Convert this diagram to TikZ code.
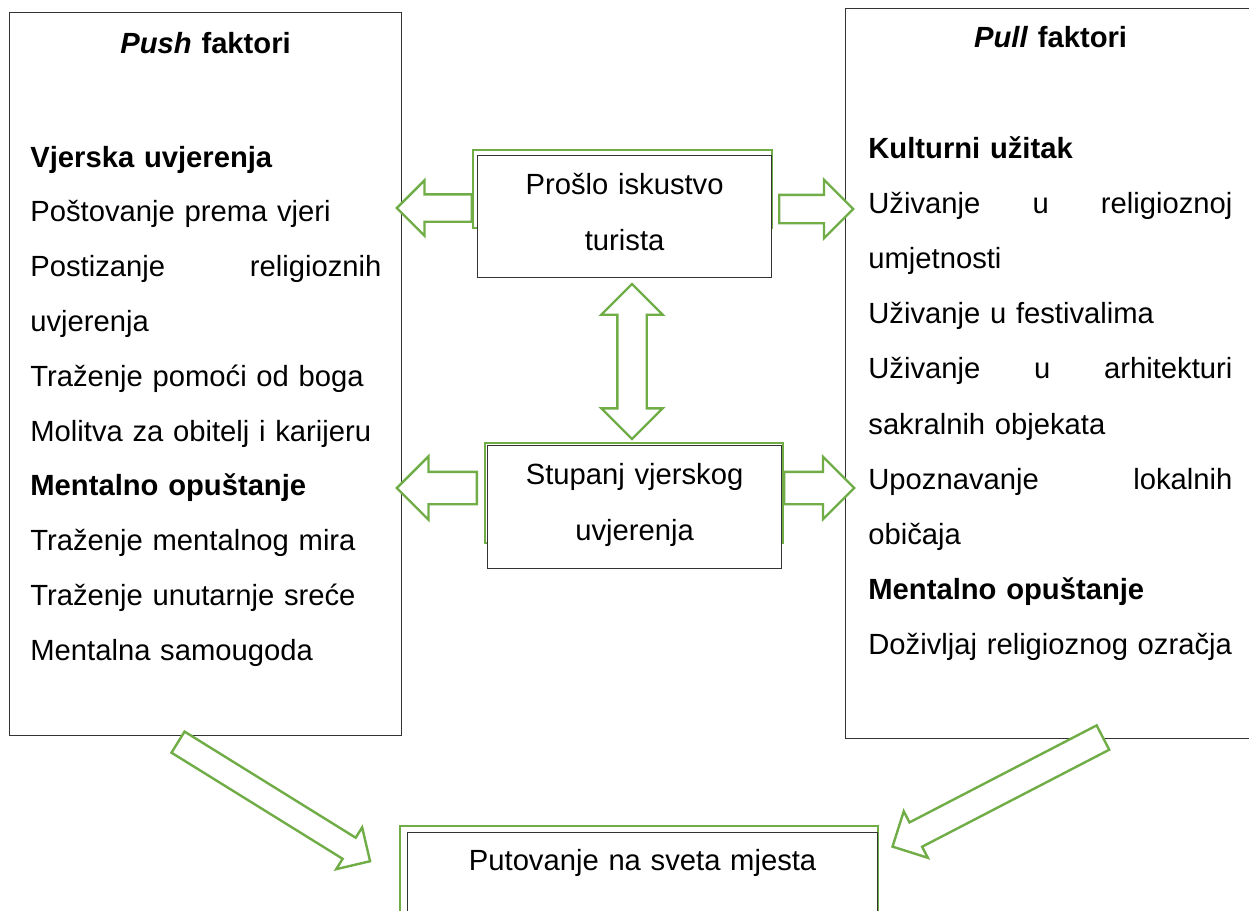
\documentclass[tikz,border=0pt]{standalone}
\usepackage{fontspec}
\setmainfont{Liberation Sans}
\usepackage{tikz}
\usetikzlibrary{shapes.arrows}

\definecolor{zelena}{HTML}{70AD47}
\definecolor{rub}{HTML}{333333}

\newcommand{\slovaL}{\fontsize{14.6pt}{27.4pt}\selectfont}
\newcommand{\slovaD}{\fontsize{14.6pt}{27.6pt}\selectfont}
\newcommand{\slovaS}{\fontsize{14.6pt}{28pt}\selectfont}

\tikzset{
  okvir/.style={draw=rub, line width=0.6pt, fill=white, inner sep=0pt, align=center, anchor=north west},
  zeleni/.style={draw=zelena, line width=1.2pt},
  stupac/.style={inner sep=0pt, align=left, anchor=base west},
  strelica/.style n args={3}{single arrow, draw=zelena, fill=white, line width=1.2pt,
    inner xsep=0pt, inner ysep=#2, minimum height=#1, single arrow head extend=#3},
  dvostruka/.style n args={3}{double arrow, draw=zelena, fill=white, line width=1.2pt,
    inner xsep=0pt, inner ysep=#2, minimum height=#1, double arrow head extend=#3}
}

\begin{document}
\begin{tikzpicture}[x=0.5pt, y=-0.5pt]
  \clip (0,0) rectangle (1249,911);

  % zeleni okviri iza srednjih kucica
  \draw[zeleni] (473,150) rectangle (772,228);
  \draw[zeleni] (485,443) rectangle (783,543);
  \draw[zeleni] (400,826) rectangle (878,960);

  % velike kucice s naslovom
  \node[okvir, text width=196pt, text height=20.5pt, text depth=341pt, font=\slovaL\bfseries] (push) at (9,12) {\textit{Push} faktori};
  \node[okvir, text width=205pt, text height=19.5pt, text depth=345.5pt, font=\slovaD\bfseries] (pull) at (845,8) {\textit{Pull} faktori};

  % srednje kucice
  \node[okvir, text width=147pt, text height=19.5pt, text depth=41.5pt, font=\slovaS] (proslo) at (477,155) {Prošlo iskustvo\\turista};
  \node[okvir, text width=147pt, text height=19.5pt, text depth=42pt, font=\slovaS] (stupanj) at (487,445) {Stupanj vjerskog\\uvjerenja};
  \node[okvir, text width=235pt, text height=19pt, text depth=45pt, font=\slovaS] (putovanje) at (407,832) {Putovanje na sveta mjesta};

  % tekst u stupcima
  \node[stupac, text width=175.5pt, font=\slovaL] (pushtekst) at (30,167) {%
    \textbf{Vjerska uvjerenja}\\
    Poštovanje prema vjeri\\
    Postizanje\hfill religioznih\\
    uvjerenja\\
    Traženje pomoći od boga\\
    Molitva za obitelj i karijeru\\
    \textbf{Mentalno opuštanje}\\
    Traženje mentalnog mira\\
    Traženje unutarnje sreće\\
    Mentalna samougoda};
  \node[stupac, text width=182pt, font=\slovaD] (pulltekst) at (868,158) {%
    \textbf{Kulturni užitak}\\
    Uživanje\hfill u\hfill religioznoj\\
    umjetnosti\\
    Uživanje u festivalima\\
    Uživanje\hfill u\hfill arhitekturi\\
    sakralnih objekata\\
    Upoznavanje\hfill lokalnih\\
    običaja\\
    \textbf{Mentalno opuštanje}\\
    Doživljaj religioznog ozračja};

  % strelice
  \node[strelica={37.5pt}{6.25pt}{7pt}, rotate=180, anchor=tail] (sl1) at (473,208) {};
  \node[strelica={37pt}{6.5pt}{7.5pt}, anchor=tail] (sd1) at (778,209) {};
  \node[strelica={40pt}{7.5pt}{7.75pt}, rotate=180, anchor=tail] (sl2) at (478,488) {};
  \node[strelica={35pt}{7.5pt}{7.5pt}, anchor=tail] (sd2) at (783,488) {};
  \node[dvostruka={77.5pt}{6.75pt}{8pt}, rotate=90] (veza) at (632,361.5) {};
  \node[strelica={113pt}{5.6pt}{6.1pt}, rotate=-31.8, anchor=tail] (kos1) at (177,741.5) {};
  \node[strelica={118.5pt}{6.25pt}{6.25pt}, rotate=-152.6, anchor=tail] (kos2) at (1104,737) {};
\end{tikzpicture}
\end{document}
